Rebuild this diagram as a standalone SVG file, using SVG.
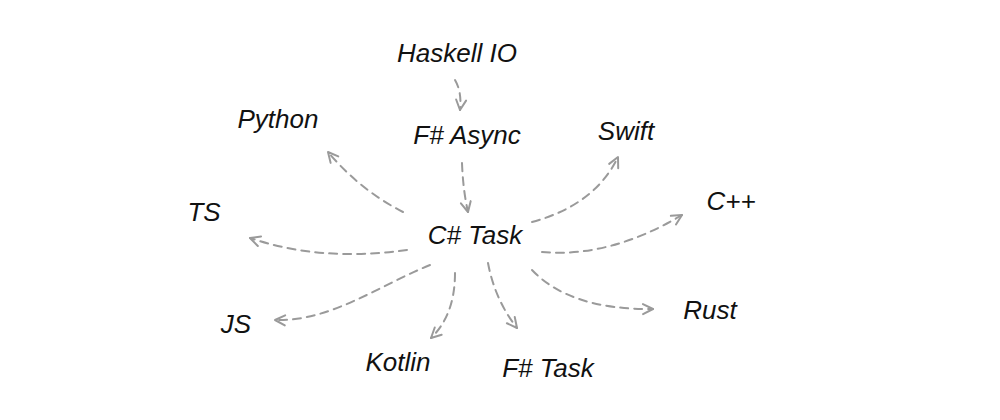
<svg xmlns="http://www.w3.org/2000/svg" width="1000" height="420" viewBox="0 0 1000 420">
<style>
.lbl{font-family:"Liberation Sans",Arial,sans-serif;font-style:italic;font-size:26px;fill:#111;text-anchor:middle}
.arr{fill:none;stroke:#9a9a9a;stroke-width:2;stroke-dasharray:8 6;stroke-linecap:round;marker-end:url(#ah)}
</style>
<defs>
<marker id="ah" viewBox="-12 -7 14 14" refX="0" refY="0" markerWidth="14" markerHeight="14" markerUnits="userSpaceOnUse" orient="auto">
<path d="M -10 -5 L 0 0 L -10 5" fill="none" stroke="#9a9a9a" stroke-width="2" stroke-linecap="round" stroke-linejoin="round"/>
</marker>
</defs>
<rect width="1000" height="420" fill="#fff"/>
<g id="connectors">
<path class="arr" d="M 455 80 Q 462 92 460 110"/>
<path class="arr" d="M 462 163 Q 463 190 468 212"/>
<path class="arr" d="M 403 212 Q 360 190 328 152"/>
<path class="arr" d="M 407 250 Q 320 262 250 238"/>
<path class="arr" d="M 430 265 C 380 285 330 322 275 320"/>
<path class="arr" d="M 532 222 Q 595 205 618 157"/>
<path class="arr" d="M 542 252 Q 610 258 682 215"/>
<path class="arr" d="M 532 270 Q 570 310 653 309"/>
<path class="arr" d="M 455 273 Q 455 315 431 338"/>
<path class="arr" d="M 488 263 Q 495 300 517 328"/>
</g>
<g id="haskell-io"><text class="lbl" x="457" y="62">Haskell IO</text></g>
<g id="fsharp-async"><text class="lbl" x="467" y="144">F# Async</text></g>
<g id="csharp-task"><text class="lbl" x="475" y="244">C# Task</text></g>
<g id="python"><text class="lbl" x="278" y="128">Python</text></g>
<g id="ts"><text class="lbl" x="204" y="221">TS</text></g>
<g id="js"><text class="lbl" x="236" y="333">JS</text></g>
<g id="swift"><text class="lbl" x="626" y="140">Swift</text></g>
<g id="cpp"><text class="lbl" x="731" y="210">C++</text></g>
<g id="rust"><text class="lbl" x="710" y="319">Rust</text></g>
<g id="kotlin"><text class="lbl" x="398" y="371">Kotlin</text></g>
<g id="fsharp-task"><text class="lbl" x="548" y="377">F# Task</text></g>
</svg>
